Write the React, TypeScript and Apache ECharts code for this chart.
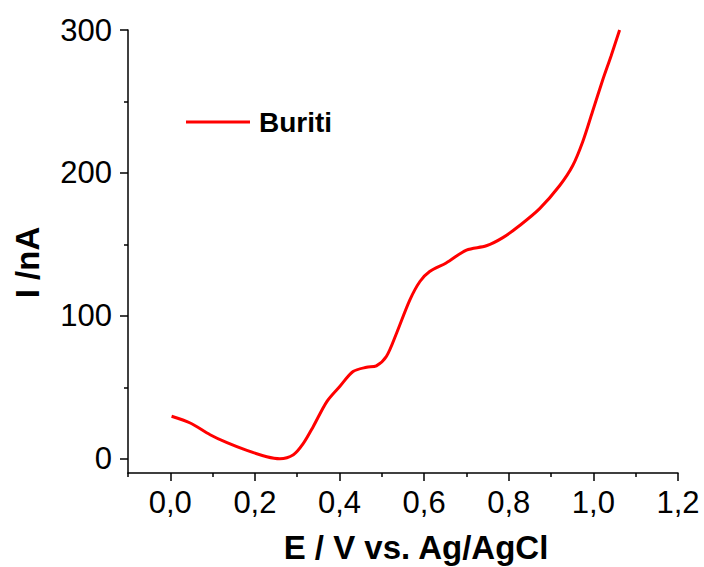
import React, { useEffect, useRef } from "react";
import * as echarts from "echarts";

const seriesName = "Buriti";
const potential = [0.003, 0.047, 0.094, 0.134, 0.181, 0.228, 0.259, 0.291, 0.314, 0.338, 0.37, 0.401, 0.432, 0.464, 0.487, 0.511, 0.535, 0.566, 0.59, 0.613, 0.652, 0.7, 0.747, 0.786, 0.825, 0.873, 0.92, 0.951, 0.975, 0.998, 1.022, 1.042, 1.062];
const current = [29.7, 25, 16.8, 11.2, 5.8, 1.4, 0, 2.8, 10.5, 22.6, 40, 50.7, 61, 64, 65, 71.7, 88, 111, 124, 131, 137, 146, 149, 154.7, 163, 175, 191, 205, 222, 243, 265, 282, 300];
const xMajorTicks = [0, 0.2, 0.4, 0.6, 0.8, 1.0, 1.2];
const xMinorTicks = [-0.1, 0.1, 0.3, 0.5, 0.7, 0.9, 1.1];
const yMajorTicks = [0, 100, 200, 300];
const yMinorTicks = [50, 150, 250];

const FONT = "Liberation Sans, Arial, Helvetica, sans-serif";

export default function App() {
  const ref = useRef<HTMLDivElement>(null);
  useEffect(() => {
    const chart = echarts.init(ref.current!, null, { renderer: "svg" });
    const data = potential.map((x, i) => [x, current[i]]);
    chart.setOption({
      animation: false,
      backgroundColor: "#fff",
      grid: { left: 128, right: 26, top: 30, bottom: 94, containLabel: false, outerBoundsMode: "none" },
      legend: {
        data: [seriesName],
        left: 186,
        top: 108,
        padding: 0,
        icon: "rect",
        itemWidth: 64,
        itemHeight: 3,
        itemGap: 10,
        textStyle: { fontFamily: FONT, fontWeight: "bold", fontSize: 28, color: "#000", padding: [0, 0, 0, 4] },
      },
      xAxis: [
        {
          type: "value",
          min: -0.1,
          max: 1.2,
          name: "E / V vs. Ag/AgCl",
          nameLocation: "middle",
          nameGap: 58,
          nameTextStyle: { fontFamily: FONT, fontWeight: "bold", fontSize: 33, color: "#000", padding: [0, 0, 0, 26] },
          axisLine: { onZero: false, lineStyle: { color: "#000", width: 1.5 } },
          axisTick: { customValues: xMajorTicks, inside: false, length: 8, lineStyle: { color: "#000", width: 1.5 } },
          axisLabel: {
            customValues: xMajorTicks,
            margin: 14,
            fontFamily: FONT,
            fontSize: 31,
            color: "#000",
            formatter: (v: number) => v.toFixed(1).replace(".", ","),
          },
          splitLine: { show: false },
        },
        {
          type: "value",
          min: -0.1,
          max: 1.2,
          position: "bottom",
          axisLine: { show: false, onZero: false },
          axisTick: { customValues: xMinorTicks, inside: false, length: 4, lineStyle: { color: "#000", width: 1.5 } },
          axisLabel: { show: false },
          splitLine: { show: false },
        },
      ],
      yAxis: [
        {
          type: "value",
          min: -10,
          max: 300,
          name: "I /nA",
          nameLocation: "middle",
          nameGap: 84,
          nameTextStyle: { fontFamily: FONT, fontWeight: "bold", fontSize: 33, color: "#000", padding: [0, 22, 0, 0] },
          axisLine: { onZero: false, lineStyle: { color: "#000", width: 1.5 } },
          axisTick: { customValues: yMajorTicks, inside: false, length: 8, lineStyle: { color: "#000", width: 1.5 } },
          axisLabel: { customValues: yMajorTicks, margin: 16, fontFamily: FONT, fontSize: 31, color: "#000" },
          splitLine: { show: false },
        },
        {
          type: "value",
          min: -10,
          max: 300,
          position: "left",
          axisLine: { show: false, onZero: false },
          axisTick: { customValues: yMinorTicks, inside: false, length: 4, lineStyle: { color: "#000", width: 1.5 } },
          axisLabel: { show: false },
          splitLine: { show: false },
        },
      ],
      series: [
        {
          name: seriesName,
          type: "line",
          data,
          smooth: 0.3,
          showSymbol: false,
          lineStyle: { color: "#ff0000", width: 3 },
          itemStyle: { color: "#ff0000" },
        },
      ],
    });
    return () => chart.dispose();
  }, []);
  return <div ref={ref} style={{ width: 704, height: 567, position: "absolute", left: 0, top: 0 }} />;
}
